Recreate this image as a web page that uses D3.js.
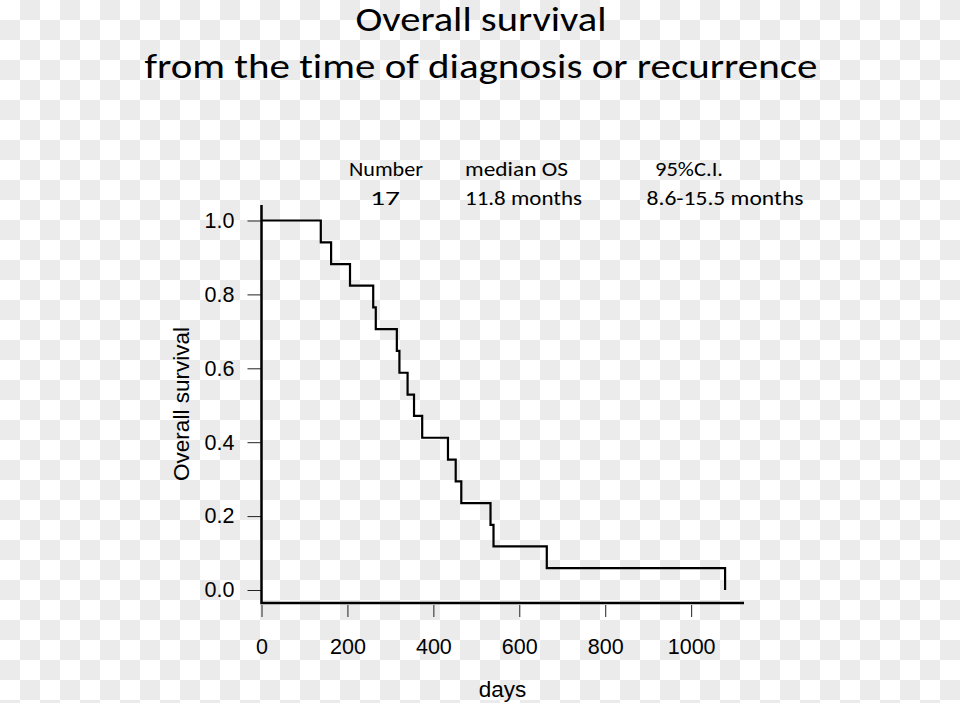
<!DOCTYPE html>
<html>
<head>
<meta charset="utf-8">
<script src="https://cdn.jsdelivr.net/npm/d3@7"></script>
<style>
  html, body { margin: 0; padding: 0; background: #fff; }
  svg { display: block; }
  text { font-variant-ligatures: none; }
</style>
</head>
<body>
<svg id="chart" width="960" height="703"></svg>
<script>
// ---- data ----
const eventDays = [0, 138, 162, 206, 260, 266, 315, 321, 340, 355, 374, 434, 452, 465, 533, 540, 664, 1079];
const survival  = [1.0, 0.941, 0.882, 0.824, 0.765, 0.706, 0.647, 0.588, 0.529, 0.471, 0.412, 0.353, 0.294, 0.235, 0.176, 0.118, 0.059, 0.0];
const xTicks = [0, 200, 400, 600, 800, 1000];
const yTicks = [0.0, 0.2, 0.4, 0.6, 0.8, 1.0];
const titleLines = ["Overall survival", "from the time of diagnosis or recurrence"];
const infoHeader = ["Number", "median OS", "95%C.I."];
const infoValues = ["17", "11.8 months", "8.6-15.5 months"];
const xLabel = "days";
const yLabel = "Overall survival";

const svg = d3.select("#chart");
const W = 960, H = 703;

// checkerboard background (transparent-image look)
const defs = svg.append("defs");
const pat = defs.append("pattern").attr("id", "checker")
  .attr("width", 40).attr("height", 40).attr("patternUnits", "userSpaceOnUse");
pat.append("rect").attr("width", 40).attr("height", 40).attr("fill", "#ffffff");
pat.append("rect").attr("x", 20).attr("y", 0).attr("width", 20).attr("height", 20).attr("fill", "#ebebeb");
pat.append("rect").attr("x", 0).attr("y", 20).attr("width", 20).attr("height", 20).attr("fill", "#ebebeb");
svg.append("rect").attr("width", W).attr("height", H).attr("fill", "url(#checker)");

const calibri = "Carlito, Calibri, 'Open Sans', 'Noto Sans', sans-serif";
const arial = "'Liberation Sans', Arial, Helvetica, sans-serif";

// scales
const x = d3.scaleLinear().domain([0, 1123]).range([261.5, 744]);
const y = d3.scaleLinear().domain([0, 1]).range([590, 220.5]);

// title
const titleSpecs = [
  { text: titleLines[0], yb: 31, w: 251 },
  { text: titleLines[1], yb: 78, w: 673 }
];
titleSpecs.forEach(s => {
  svg.append("text").attr("x", 481).attr("y", s.yb)
    .attr("text-anchor", "middle")
    .attr("font-family", calibri).attr("font-size", 35.5)
    .attr("textLength", s.w).attr("lengthAdjust", "spacingAndGlyphs")
    .attr("fill", "#000").text(s.text);
});

// info table
const colX = [386, 465, 689];
const colAnchor = ["middle", "start", "middle"];
const headerW = [74, 103, 68];
const valueW = [30, 117, 157];
const valueX = [385, 465, 725];
const valueAnchor = ["middle", "start", "middle"];
infoHeader.forEach((t, i) => {
  svg.append("text").attr("x", colX[i]).attr("y", 176)
    .attr("text-anchor", colAnchor[i])
    .attr("font-family", calibri).attr("font-size", 20)
    .attr("textLength", headerW[i]).attr("lengthAdjust", "spacingAndGlyphs")
    .text(t);
});
infoValues.forEach((t, i) => {
  svg.append("text").attr("x", valueX[i]).attr("y", 205)
    .attr("text-anchor", valueAnchor[i])
    .attr("font-family", calibri).attr("font-size", 20)
    .attr("textLength", valueW[i]).attr("lengthAdjust", "spacingAndGlyphs")
    .text(t);
});

// y axis
const yAxis = d3.axisLeft(y).tickValues(yTicks).tickFormat(d3.format(".1f"))
  .tickSize(14).tickPadding(13);
const gy = svg.append("g").attr("transform", "translate(261.5,0)").call(yAxis);
gy.select(".domain").remove();
gy.selectAll(".tick line").attr("stroke", "#222").attr("stroke-width", 1);
gy.selectAll(".tick text").attr("font-family", arial).attr("font-size", 21.5).attr("fill", "#000");

// x axis
const xAxis = d3.axisBottom(x).tickValues(xTicks).tickFormat(d3.format("d"))
  .tickSize(0);
const gx = svg.append("g").attr("transform", "translate(0,603)").call(xAxis);
gx.select(".domain").remove();
gx.selectAll(".tick line").attr("y1", 2).attr("y2", 14).attr("stroke", "#222").attr("stroke-width", 1);
gx.selectAll(".tick text").attr("font-family", arial).attr("font-size", 21.5).attr("fill", "#000")
  .attr("y", 51).attr("dy", null);

// L-shaped box
svg.append("path")
  .attr("d", `M${x(0)},${y(1.042)} L${x(0)},603 L${x(1123)},603`)
  .attr("fill", "none").attr("stroke", "#000").attr("stroke-width", 2.5);

// survival curve
const pts = eventDays.map((d, i) => [d, survival[i]]);
const line = d3.line().x(d => x(d[0])).y(d => y(d[1])).curve(d3.curveStepAfter);
svg.append("path").attr("d", line(pts))
  .attr("fill", "none").attr("stroke", "#000").attr("stroke-width", 2.2);

// axis labels
svg.append("text").attr("x", 502.5).attr("y", 697)
  .attr("text-anchor", "middle").attr("font-family", arial).attr("font-size", 22.5)
  .text(xLabel);
svg.append("text").attr("transform", "translate(189,404) rotate(-90)")
  .attr("text-anchor", "middle").attr("font-family", arial).attr("font-size", 22.5)
  .text(yLabel);
</script>
</body>
</html>
